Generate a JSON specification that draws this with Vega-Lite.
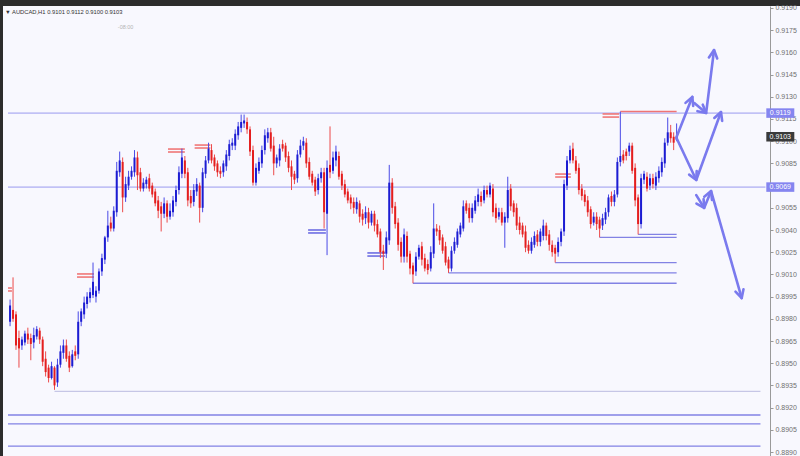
{
  "$schema": "https://vega.github.io/schema/vega-lite/v6.json",
  "width": 797,
  "height": 450,
  "autosize": "none",
  "padding": {"left": 3, "top": 6, "right": 0, "bottom": 0},
  "background": "#2c2c2c",
  "config": {
    "view": {"fill": "#f8f8fe", "stroke": null},
    "font": "Liberation Sans"
  },
  "title": {
    "text": "▼ AUDCAD,H1 0.9101 0.9112 0.9100 0.9103",
    "anchor": "start",
    "frame": "group",
    "orient": "top",
    "offset": -11,
    "dx": 2,
    "fontSize": 5.8,
    "fontWeight": "normal",
    "font": "Liberation Sans",
    "color": "#333333"
  },
  "resolve": {"axis": {"y": "independent"}},
  "datasets": {
    "candles": [
      {"i":0,"o":0.8978,"h":0.8993,"l":0.8975,"c":0.8989},
      {"i":1,"o":0.8986,"h":0.9008,"l":0.8978,"c":0.8980},
      {"i":2,"o":0.8983,"h":0.8985,"l":0.8959,"c":0.8962},
      {"i":3,"o":0.8967,"h":0.8972,"l":0.8947,"c":0.8960},
      {"i":4,"o":0.8962,"h":0.8968,"l":0.8959,"c":0.8966},
      {"i":5,"o":0.8964,"h":0.8972,"l":0.8962,"c":0.8970},
      {"i":6,"o":0.8970,"h":0.8974,"l":0.8963,"c":0.8966},
      {"i":7,"o":0.8967,"h":0.8970,"l":0.8952,"c":0.8963},
      {"i":8,"o":0.8964,"h":0.8974,"l":0.8960,"c":0.8969},
      {"i":9,"o":0.8968,"h":0.8975,"l":0.8966,"c":0.8973},
      {"i":10,"o":0.8972,"h":0.8974,"l":0.8963,"c":0.8966},
      {"i":11,"o":0.8966,"h":0.8968,"l":0.8948,"c":0.8951},
      {"i":12,"o":0.8953,"h":0.8958,"l":0.8941,"c":0.8944},
      {"i":13,"o":0.8947,"h":0.8949,"l":0.8937,"c":0.8940},
      {"i":14,"o":0.8940,"h":0.8951,"l":0.8939,"c":0.8948},
      {"i":15,"o":0.8947,"h":0.8948,"l":0.8932,"c":0.8935},
      {"i":16,"o":0.8937,"h":0.8953,"l":0.8934,"c":0.8949},
      {"i":17,"o":0.8949,"h":0.8962,"l":0.8947,"c":0.8958},
      {"i":18,"o":0.8957,"h":0.8966,"l":0.8953,"c":0.8962},
      {"i":19,"o":0.8962,"h":0.8966,"l":0.8951,"c":0.8953},
      {"i":20,"o":0.8955,"h":0.8958,"l":0.8944,"c":0.8947},
      {"i":21,"o":0.8948,"h":0.8959,"l":0.8947,"c":0.8956},
      {"i":22,"o":0.8958,"h":0.8962,"l":0.8952,"c":0.8955},
      {"i":23,"o":0.8956,"h":0.8985,"l":0.8953,"c":0.8978},
      {"i":24,"o":0.8978,"h":0.8987,"l":0.8975,"c":0.8985},
      {"i":25,"o":0.8983,"h":0.8995,"l":0.8980,"c":0.8991},
      {"i":26,"o":0.8990,"h":0.8998,"l":0.8987,"c":0.8995},
      {"i":27,"o":0.8994,"h":0.9001,"l":0.8991,"c":0.8998},
      {"i":28,"o":0.8996,"h":0.9018,"l":0.8994,"c":0.9005},
      {"i":29,"o":0.8995,"h":0.9002,"l":0.8991,"c":0.8999},
      {"i":30,"o":0.8999,"h":0.9014,"l":0.8997,"c":0.9012},
      {"i":31,"o":0.9012,"h":0.9024,"l":0.9009,"c":0.9021},
      {"i":32,"o":0.9020,"h":0.9036,"l":0.9017,"c":0.9035},
      {"i":33,"o":0.9035,"h":0.9053,"l":0.9032,"c":0.9043},
      {"i":34,"o":0.9045,"h":0.9049,"l":0.9039,"c":0.9041},
      {"i":35,"o":0.9041,"h":0.9056,"l":0.9039,"c":0.9053},
      {"i":36,"o":0.9052,"h":0.9086,"l":0.9049,"c":0.9080},
      {"i":37,"o":0.9079,"h":0.9093,"l":0.9076,"c":0.9087},
      {"i":38,"o":0.9086,"h":0.9089,"l":0.9052,"c":0.9062},
      {"i":39,"o":0.9062,"h":0.9076,"l":0.9059,"c":0.9071},
      {"i":40,"o":0.9070,"h":0.9080,"l":0.9067,"c":0.9076},
      {"i":41,"o":0.9076,"h":0.9083,"l":0.9074,"c":0.9080},
      {"i":42,"o":0.9079,"h":0.9094,"l":0.9076,"c":0.9089},
      {"i":43,"o":0.9089,"h":0.9093,"l":0.9067,"c":0.9077},
      {"i":44,"o":0.9079,"h":0.9082,"l":0.9066,"c":0.9068},
      {"i":45,"o":0.9068,"h":0.9075,"l":0.9066,"c":0.9072},
      {"i":46,"o":0.9071,"h":0.9076,"l":0.9068,"c":0.9074},
      {"i":47,"o":0.9075,"h":0.9078,"l":0.9066,"c":0.9068},
      {"i":48,"o":0.9070,"h":0.9072,"l":0.9062,"c":0.9064},
      {"i":49,"o":0.9066,"h":0.9068,"l":0.9056,"c":0.9058},
      {"i":50,"o":0.9060,"h":0.9063,"l":0.9048,"c":0.9053},
      {"i":51,"o":0.9056,"h":0.9059,"l":0.9039,"c":0.9051},
      {"i":52,"o":0.9051,"h":0.9062,"l":0.9048,"c":0.9058},
      {"i":53,"o":0.9058,"h":0.9060,"l":0.9045,"c":0.9049},
      {"i":54,"o":0.9049,"h":0.9058,"l":0.9047,"c":0.9053},
      {"i":55,"o":0.9052,"h":0.9063,"l":0.9049,"c":0.9060},
      {"i":56,"o":0.9059,"h":0.9070,"l":0.9056,"c":0.9067},
      {"i":57,"o":0.9067,"h":0.9083,"l":0.9064,"c":0.9079},
      {"i":58,"o":0.9078,"h":0.9095,"l":0.9075,"c":0.9089},
      {"i":59,"o":0.9087,"h":0.9090,"l":0.9075,"c":0.9078},
      {"i":60,"o":0.9079,"h":0.9082,"l":0.9056,"c":0.9060},
      {"i":61,"o":0.9063,"h":0.9067,"l":0.9055,"c":0.9058},
      {"i":62,"o":0.9059,"h":0.9071,"l":0.9056,"c":0.9067},
      {"i":63,"o":0.9066,"h":0.9075,"l":0.9063,"c":0.9071},
      {"i":64,"o":0.9070,"h":0.9072,"l":0.9045,"c":0.9055},
      {"i":65,"o":0.9055,"h":0.9082,"l":0.9052,"c":0.9079},
      {"i":66,"o":0.9078,"h":0.9090,"l":0.9075,"c":0.9087},
      {"i":67,"o":0.9087,"h":0.9099,"l":0.9085,"c":0.9095},
      {"i":68,"o":0.9094,"h":0.9098,"l":0.9085,"c":0.9087},
      {"i":69,"o":0.9089,"h":0.9091,"l":0.9080,"c":0.9083},
      {"i":70,"o":0.9085,"h":0.9087,"l":0.9076,"c":0.9079},
      {"i":71,"o":0.9080,"h":0.9083,"l":0.9075,"c":0.9078},
      {"i":72,"o":0.9079,"h":0.9087,"l":0.9076,"c":0.9085},
      {"i":73,"o":0.9083,"h":0.9094,"l":0.9080,"c":0.9091},
      {"i":74,"o":0.9090,"h":0.9101,"l":0.9087,"c":0.9098},
      {"i":75,"o":0.9097,"h":0.9102,"l":0.9094,"c":0.9099},
      {"i":76,"o":0.9097,"h":0.9108,"l":0.9094,"c":0.9105},
      {"i":77,"o":0.9104,"h":0.9113,"l":0.9101,"c":0.9110},
      {"i":78,"o":0.9109,"h":0.9118,"l":0.9106,"c":0.9113},
      {"i":79,"o":0.9112,"h":0.9118,"l":0.9109,"c":0.9114},
      {"i":80,"o":0.9113,"h":0.9116,"l":0.9105,"c":0.9108},
      {"i":81,"o":0.9108,"h":0.9110,"l":0.9090,"c":0.9093},
      {"i":82,"o":0.9094,"h":0.9097,"l":0.9070,"c":0.9072},
      {"i":83,"o":0.9072,"h":0.9085,"l":0.9070,"c":0.9082},
      {"i":84,"o":0.9080,"h":0.9089,"l":0.9078,"c":0.9086},
      {"i":85,"o":0.9085,"h":0.9097,"l":0.9082,"c":0.9094},
      {"i":86,"o":0.9094,"h":0.9108,"l":0.9091,"c":0.9104},
      {"i":87,"o":0.9102,"h":0.9109,"l":0.9099,"c":0.9106},
      {"i":88,"o":0.9106,"h":0.9109,"l":0.9093,"c":0.9095},
      {"i":89,"o":0.9097,"h":0.9103,"l":0.9077,"c":0.9085},
      {"i":90,"o":0.9085,"h":0.9091,"l":0.9082,"c":0.9089},
      {"i":91,"o":0.9087,"h":0.9098,"l":0.9083,"c":0.9095},
      {"i":92,"o":0.9098,"h":0.9101,"l":0.9093,"c":0.9095},
      {"i":93,"o":0.9097,"h":0.9099,"l":0.9086,"c":0.9089},
      {"i":94,"o":0.9090,"h":0.9093,"l":0.9079,"c":0.9082},
      {"i":95,"o":0.9083,"h":0.9087,"l":0.9067,"c":0.9076},
      {"i":96,"o":0.9078,"h":0.9080,"l":0.9071,"c":0.9074},
      {"i":97,"o":0.9075,"h":0.9094,"l":0.9072,"c":0.9091},
      {"i":98,"o":0.9091,"h":0.9101,"l":0.9089,"c":0.9097},
      {"i":99,"o":0.9097,"h":0.9103,"l":0.9094,"c":0.9100},
      {"i":100,"o":0.9099,"h":0.9102,"l":0.9082,"c":0.9085},
      {"i":101,"o":0.9086,"h":0.9089,"l":0.9074,"c":0.9076},
      {"i":102,"o":0.9078,"h":0.9080,"l":0.9070,"c":0.9072},
      {"i":103,"o":0.9074,"h":0.9076,"l":0.9063,"c":0.9066},
      {"i":104,"o":0.9067,"h":0.9078,"l":0.9064,"c":0.9075},
      {"i":105,"o":0.9075,"h":0.9082,"l":0.9072,"c":0.9079},
      {"i":106,"o":0.9079,"h":0.9082,"l":0.9041,"c":0.9052},
      {"i":107,"o":0.9051,"h":0.9087,"l":0.9023,"c":0.9082},
      {"i":108,"o":0.9084,"h":0.9110,"l":0.9075,"c":0.9079},
      {"i":109,"o":0.9080,"h":0.9093,"l":0.9078,"c":0.9089},
      {"i":110,"o":0.9087,"h":0.9097,"l":0.9083,"c":0.9093},
      {"i":111,"o":0.9090,"h":0.9093,"l":0.9074,"c":0.9076},
      {"i":112,"o":0.9078,"h":0.9080,"l":0.9067,"c":0.9070},
      {"i":113,"o":0.9071,"h":0.9074,"l":0.9062,"c":0.9064},
      {"i":114,"o":0.9066,"h":0.9068,"l":0.9058,"c":0.9060},
      {"i":115,"o":0.9062,"h":0.9064,"l":0.9054,"c":0.9058},
      {"i":116,"o":0.9059,"h":0.9062,"l":0.9051,"c":0.9055},
      {"i":117,"o":0.9054,"h":0.9062,"l":0.9051,"c":0.9059},
      {"i":118,"o":0.9058,"h":0.9060,"l":0.9045,"c":0.9049},
      {"i":119,"o":0.9051,"h":0.9054,"l":0.9043,"c":0.9047},
      {"i":120,"o":0.9048,"h":0.9056,"l":0.9044,"c":0.9052},
      {"i":121,"o":0.9052,"h":0.9055,"l":0.9041,"c":0.9045},
      {"i":122,"o":0.9045,"h":0.9053,"l":0.9043,"c":0.9051},
      {"i":123,"o":0.9051,"h":0.9053,"l":0.9039,"c":0.9043},
      {"i":124,"o":0.9044,"h":0.9047,"l":0.9035,"c":0.9037},
      {"i":125,"o":0.9039,"h":0.9041,"l":0.9021,"c":0.9025},
      {"i":126,"o":0.9026,"h":0.9030,"l":0.9013,"c":0.9024},
      {"i":127,"o":0.9024,"h":0.9039,"l":0.9021,"c":0.9035},
      {"i":128,"o":0.9033,"h":0.9084,"l":0.9030,"c":0.9072},
      {"i":129,"o":0.9072,"h":0.9075,"l":0.9051,"c":0.9055},
      {"i":130,"o":0.9056,"h":0.9059,"l":0.9041,"c":0.9044},
      {"i":131,"o":0.9045,"h":0.9048,"l":0.9026,"c":0.9030},
      {"i":132,"o":0.9032,"h":0.9035,"l":0.9018,"c":0.9022},
      {"i":133,"o":0.9022,"h":0.9041,"l":0.9018,"c":0.9037},
      {"i":134,"o":0.9036,"h":0.9039,"l":0.9018,"c":0.9022},
      {"i":135,"o":0.9024,"h":0.9026,"l":0.9010,"c":0.9014},
      {"i":136,"o":0.9016,"h":0.9018,"l":0.9004,"c":0.9010},
      {"i":137,"o":0.9012,"h":0.9025,"l":0.9009,"c":0.9022},
      {"i":138,"o":0.9022,"h":0.9030,"l":0.9020,"c":0.9028},
      {"i":139,"o":0.9029,"h":0.9032,"l":0.9016,"c":0.9020},
      {"i":140,"o":0.9021,"h":0.9024,"l":0.9012,"c":0.9014},
      {"i":141,"o":0.9017,"h":0.9020,"l":0.9010,"c":0.9013},
      {"i":142,"o":0.9014,"h":0.9029,"l":0.9012,"c":0.9025},
      {"i":143,"o":0.9024,"h":0.9058,"l":0.9021,"c":0.9041},
      {"i":144,"o":0.9041,"h":0.9044,"l":0.9036,"c":0.9039},
      {"i":145,"o":0.9040,"h":0.9043,"l":0.9030,"c":0.9033},
      {"i":146,"o":0.9035,"h":0.9037,"l":0.9024,"c":0.9026},
      {"i":147,"o":0.9029,"h":0.9032,"l":0.9016,"c":0.9018},
      {"i":148,"o":0.9020,"h":0.9022,"l":0.9011,"c":0.9014},
      {"i":149,"o":0.9014,"h":0.9029,"l":0.9012,"c":0.9026},
      {"i":150,"o":0.9026,"h":0.9035,"l":0.9024,"c":0.9032},
      {"i":151,"o":0.9030,"h":0.9041,"l":0.9028,"c":0.9039},
      {"i":152,"o":0.9037,"h":0.9045,"l":0.9035,"c":0.9043},
      {"i":153,"o":0.9041,"h":0.9060,"l":0.9039,"c":0.9056},
      {"i":154,"o":0.9058,"h":0.9060,"l":0.9051,"c":0.9053},
      {"i":155,"o":0.9055,"h":0.9058,"l":0.9045,"c":0.9048},
      {"i":156,"o":0.9048,"h":0.9058,"l":0.9045,"c":0.9055},
      {"i":157,"o":0.9053,"h":0.9063,"l":0.9051,"c":0.9060},
      {"i":158,"o":0.9059,"h":0.9068,"l":0.9056,"c":0.9064},
      {"i":159,"o":0.9063,"h":0.9066,"l":0.9056,"c":0.9059},
      {"i":160,"o":0.9060,"h":0.9070,"l":0.9058,"c":0.9067},
      {"i":161,"o":0.9067,"h":0.9070,"l":0.9062,"c":0.9064},
      {"i":162,"o":0.9064,"h":0.9072,"l":0.9062,"c":0.9070},
      {"i":163,"o":0.9068,"h":0.9071,"l":0.9049,"c":0.9052},
      {"i":164,"o":0.9055,"h":0.9058,"l":0.9045,"c":0.9048},
      {"i":165,"o":0.9049,"h":0.9055,"l":0.9047,"c":0.9052},
      {"i":166,"o":0.9052,"h":0.9055,"l":0.9043,"c":0.9045},
      {"i":167,"o":0.9045,"h":0.9052,"l":0.9028,"c":0.9049},
      {"i":168,"o":0.9048,"h":0.9076,"l":0.9045,"c":0.9067},
      {"i":169,"o":0.9068,"h":0.9071,"l":0.9053,"c":0.9056},
      {"i":170,"o":0.9058,"h":0.9060,"l":0.9049,"c":0.9052},
      {"i":171,"o":0.9055,"h":0.9058,"l":0.9040,"c":0.9043},
      {"i":172,"o":0.9045,"h":0.9049,"l":0.9037,"c":0.9040},
      {"i":173,"o":0.9043,"h":0.9045,"l":0.9035,"c":0.9037},
      {"i":174,"o":0.9039,"h":0.9043,"l":0.9025,"c":0.9028},
      {"i":175,"o":0.9030,"h":0.9033,"l":0.9024,"c":0.9026},
      {"i":176,"o":0.9026,"h":0.9035,"l":0.9024,"c":0.9032},
      {"i":177,"o":0.9030,"h":0.9039,"l":0.9028,"c":0.9036},
      {"i":178,"o":0.9037,"h":0.9040,"l":0.9029,"c":0.9032},
      {"i":179,"o":0.9032,"h":0.9041,"l":0.9029,"c":0.9039},
      {"i":180,"o":0.9036,"h":0.9047,"l":0.9033,"c":0.9043},
      {"i":181,"o":0.9043,"h":0.9045,"l":0.9033,"c":0.9036},
      {"i":182,"o":0.9037,"h":0.9040,"l":0.9026,"c":0.9030},
      {"i":183,"o":0.9030,"h":0.9033,"l":0.9022,"c":0.9025},
      {"i":184,"o":0.9028,"h":0.9030,"l":0.9018,"c":0.9024},
      {"i":185,"o":0.9025,"h":0.9035,"l":0.9022,"c":0.9032},
      {"i":186,"o":0.9032,"h":0.9041,"l":0.9029,"c":0.9039},
      {"i":187,"o":0.9039,"h":0.9074,"l":0.9036,"c":0.9071},
      {"i":188,"o":0.9070,"h":0.9090,"l":0.9067,"c":0.9087},
      {"i":189,"o":0.9087,"h":0.9097,"l":0.9085,"c":0.9094},
      {"i":190,"o":0.9095,"h":0.9099,"l":0.9085,"c":0.9087},
      {"i":191,"o":0.9087,"h":0.9090,"l":0.9078,"c":0.9080},
      {"i":192,"o":0.9082,"h":0.9085,"l":0.9064,"c":0.9067},
      {"i":193,"o":0.9068,"h":0.9071,"l":0.9060,"c":0.9063},
      {"i":194,"o":0.9064,"h":0.9067,"l":0.9056,"c":0.9059},
      {"i":195,"o":0.9060,"h":0.9063,"l":0.9049,"c":0.9052},
      {"i":196,"o":0.9054,"h":0.9056,"l":0.9041,"c":0.9044},
      {"i":197,"o":0.9045,"h":0.9052,"l":0.9043,"c":0.9049},
      {"i":198,"o":0.9049,"h":0.9052,"l":0.9040,"c":0.9044},
      {"i":199,"o":0.9047,"h":0.9049,"l":0.9035,"c":0.9041},
      {"i":200,"o":0.9043,"h":0.9051,"l":0.9040,"c":0.9048},
      {"i":201,"o":0.9047,"h":0.9055,"l":0.9044,"c":0.9052},
      {"i":202,"o":0.9052,"h":0.9064,"l":0.9049,"c":0.9062},
      {"i":203,"o":0.9063,"h":0.9066,"l":0.9056,"c":0.9059},
      {"i":204,"o":0.9059,"h":0.9067,"l":0.9056,"c":0.9064},
      {"i":205,"o":0.9064,"h":0.9089,"l":0.9062,"c":0.9086},
      {"i":206,"o":0.9086,"h":0.9120,"l":0.9083,"c":0.9090},
      {"i":207,"o":0.9091,"h":0.9094,"l":0.9085,"c":0.9087},
      {"i":208,"o":0.9093,"h":0.9095,"l":0.9087,"c":0.9090},
      {"i":209,"o":0.9093,"h":0.9099,"l":0.9090,"c":0.9097},
      {"i":210,"o":0.9097,"h":0.9099,"l":0.9078,"c":0.9080},
      {"i":211,"o":0.9082,"h":0.9085,"l":0.9056,"c":0.9060},
      {"i":212,"o":0.9062,"h":0.9064,"l":0.9037,"c":0.9044},
      {"i":213,"o":0.9044,"h":0.9078,"l":0.9041,"c":0.9075},
      {"i":214,"o":0.9074,"h":0.9080,"l":0.9071,"c":0.9078},
      {"i":215,"o":0.9076,"h":0.9079,"l":0.9066,"c":0.9068},
      {"i":216,"o":0.9070,"h":0.9078,"l":0.9067,"c":0.9075},
      {"i":217,"o":0.9075,"h":0.9078,"l":0.9068,"c":0.9071},
      {"i":218,"o":0.9070,"h":0.9079,"l":0.9067,"c":0.9076},
      {"i":219,"o":0.9075,"h":0.9083,"l":0.9072,"c":0.9080},
      {"i":220,"o":0.9079,"h":0.9089,"l":0.9076,"c":0.9086},
      {"i":221,"o":0.9085,"h":0.9102,"l":0.9082,"c":0.9099},
      {"i":222,"o":0.9099,"h":0.9116,"l":0.9097,"c":0.9106},
      {"i":223,"o":0.9106,"h":0.9111,"l":0.9099,"c":0.9102},
      {"i":224,"o":0.9103,"h":0.9106,"l":0.9094,"c":0.9099},
      {"i":225,"o":0.9101,"h":0.9112,"l":0.9100,"c":0.9103}
    ],
    "levels": [
      {"kind":"level","p":0.9119,"x0":-0.7,"x1":255},
      {"kind":"level","p":0.9069,"x0":-0.7,"x1":255},
      {"kind":"faint","p":0.8931,"x0":15,"x1":253.3},
      {"kind":"support","p":0.8915,"x0":-0.7,"x1":253.3},
      {"kind":"support","p":0.8909,"x0":-0.7,"x1":253.3},
      {"kind":"support","p":0.8894,"x0":-0.7,"x1":253.3},
      {"kind":"support","p":0.9004,"x0":136,"x1":225},
      {"kind":"support","p":0.9011,"x0":148,"x1":225},
      {"kind":"support","p":0.9018,"x0":184,"x1":225},
      {"kind":"support","p":0.9035,"x0":199,"x1":225},
      {"kind":"support","p":0.9037,"x0":212,"x1":225},
      {"kind":"resist","p":0.9120,"x0":206,"x1":225},
      {"kind":"mred","p":0.90008,"x0":-0.7,"x1":0.63},
      {"kind":"mred","p":0.89988,"x0":-0.7,"x1":0.63},
      {"kind":"mred","p":0.90103,"x0":22.6,"x1":28.3},
      {"kind":"mred","p":0.90082,"x0":22.6,"x1":28.3},
      {"kind":"mred","p":0.90947,"x0":53.3,"x1":59.0},
      {"kind":"mred","p":0.90927,"x0":53.3,"x1":59.0},
      {"kind":"mred","p":0.90974,"x0":62.3,"x1":67.6},
      {"kind":"mred","p":0.90954,"x0":62.3,"x1":67.6},
      {"kind":"mred","p":0.90778,"x0":184.0,"x1":189.3},
      {"kind":"mred","p":0.90758,"x0":184.0,"x1":189.3},
      {"kind":"mred","p":0.91184,"x0":200.0,"x1":205.6},
      {"kind":"mred","p":0.91163,"x0":200.0,"x1":205.6},
      {"kind":"mblue","p":0.90400,"x0":100.6,"x1":106.6},
      {"kind":"mblue","p":0.90380,"x0":100.6,"x1":106.6},
      {"kind":"mblue","p":0.90245,"x0":120.6,"x1":126.6},
      {"kind":"mblue","p":0.90224,"x0":120.6,"x1":126.6}
    ],
    "arrows": [
      {"g":"a1","k":0,"i":224.97,"p":0.91028},{"g":"a1","k":1,"i":230.3,"p":0.91299},
      {"g":"h1","k":0,"i":228.0,"p":0.91259},{"g":"h1","k":1,"i":230.3,"p":0.91299},{"g":"h1","k":2,"i":230.6,"p":0.91238},
      {"g":"a2","k":0,"i":230.97,"p":0.91258},{"g":"a2","k":1,"i":234.97,"p":0.91191},{"g":"a2","k":2,"i":237.63,"p":0.91616},
      {"g":"h2a","k":0,"i":233.83,"p":0.91247},{"g":"h2a","k":1,"i":234.97,"p":0.91191},{"g":"h2a","k":2,"i":232.03,"p":0.91203},
      {"g":"h2b","k":0,"i":235.9,"p":0.91566},{"g":"h2b","k":1,"i":237.63,"p":0.91616},{"g":"h2b","k":2,"i":238.7,"p":0.91559},
      {"g":"a3","k":0,"i":224.97,"p":0.91022},{"g":"a3","k":1,"i":231.63,"p":0.90738},{"g":"a3","k":2,"i":239.97,"p":0.91197},
      {"g":"h3a","k":0,"i":231.77,"p":0.90799},{"g":"h3a","k":1,"i":231.63,"p":0.90738},{"g":"h3a","k":2,"i":229.23,"p":0.90774},
      {"g":"h3b","k":0,"i":237.73,"p":0.91157},{"g":"h3b","k":1,"i":239.97,"p":0.91197},{"g":"h3b","k":2,"i":240.37,"p":0.91137},
      {"g":"a4","k":0,"i":231.63,"p":0.90636},{"g":"a4","k":1,"i":234.3,"p":0.90549},{"g":"a4","k":2,"i":236.63,"p":0.90663},{"g":"a4","k":3,"i":246.97,"p":0.89940},
      {"g":"h4a","k":0,"i":234.1,"p":0.90609},{"g":"h4a","k":1,"i":234.3,"p":0.90549},{"g":"h4a","k":2,"i":231.7,"p":0.90579},
      {"g":"h4b","k":0,"i":234.33,"p":0.90625},{"g":"h4b","k":1,"i":236.63,"p":0.90663},{"g":"h4b","k":2,"i":236.93,"p":0.90603},
      {"g":"h4c","k":0,"i":247.57,"p":0.90000},{"g":"h4c","k":1,"i":246.97,"p":0.89940},{"g":"h4c","k":2,"i":244.87,"p":0.89984}
    ],
    "tags": [
      {"k":"level","p":0.9119,"t":"0.9119"},
      {"k":"bid","p":0.9103,"t":"0.9103"},
      {"k":"level","p":0.9069,"t":"0.9069"}
    ],
    "notes": [
      {"t":"-08:00"}
    ]
  },
  "layer": [
    {
      "data": {"name": "levels"},
      "mark": {"type": "rule"},
      "encoding": {
        "x": {"field": "x0", "type": "quantitative", "axis": null, "scale": {"domain": [-0.7, 264.96], "nice": false, "zero": false}},
        "x2": {"field": "x1"},
        "y": {
          "field": "p", "type": "quantitative", "title": null,
          "scale": {"domain": [0.88873, 0.919135], "nice": false, "zero": false},
          "axis": {
            "orient": "right", "offset": -30, "grid": false, "title": null,
            "values": [0.8890, 0.8905, 0.8920, 0.8935, 0.8950, 0.8965, 0.8980, 0.8995, 0.9010, 0.9025, 0.9040, 0.9055, 0.9085, 0.9100, 0.9115, 0.9130, 0.9145, 0.9160, 0.9175, 0.9190],
            "format": ".4f", "labelFont": "Liberation Sans", "labelFontSize": 7, "labelColor": "#707070",
            "tickSize": 3, "tickColor": "#9a9a9a", "domainColor": "#9a9a9a", "labelPadding": 2,
            "labelOverlap": false, "labelBound": false, "labelFlush": false
          }
        },
        "color": {"field": "kind", "type": "nominal", "legend": null,
          "scale": {"domain": ["level", "faint", "support", "resist", "mred", "mblue"],
                    "range": ["#9a9aef", "#c6c6e6", "#8282e4", "#f07474", "#f07a7a", "#7c7ce6"]}},
        "strokeWidth": {"field": "kind", "type": "ordinal", "legend": null,
          "scale": {"domain": ["level", "faint", "support", "resist", "mred", "mblue"],
                    "range": [1, 1.8, 1.3, 1.3, 1, 1]}}
      }
    },
    {
      "data": {"name": "candles"},
      "mark": {"type": "rule", "strokeWidth": 1},
      "encoding": {
        "x": {"field": "i", "type": "quantitative", "axis": null, "scale": {"domain": [-0.7, 264.96], "nice": false, "zero": false}},
        "y": {"field": "l", "type": "quantitative", "title": null, "axis": null, "scale": {"domain": [0.88873, 0.919135], "nice": false, "zero": false}},
        "y2": {"field": "h"},
        "color": {"condition": {"test": "datum.c >= datum.o", "value": "#4a4ae6"}, "value": "#ec4a4a"}
      }
    },
    {
      "data": {"name": "candles"},
      "mark": {"type": "bar", "width": 2},
      "encoding": {
        "x": {"field": "i", "type": "quantitative", "axis": null, "scale": {"domain": [-0.7, 264.96], "nice": false, "zero": false}},
        "y": {"field": "o", "type": "quantitative", "title": null, "axis": null, "scale": {"domain": [0.88873, 0.919135], "nice": false, "zero": false}},
        "y2": {"field": "c"},
        "color": {"condition": {"test": "datum.c >= datum.o", "value": "#1c1cd2"}, "value": "#e41e1e"}
      }
    },
    {
      "data": {"name": "arrows"},
      "mark": {"type": "line", "color": "#7a7aee", "strokeWidth": 2.6, "strokeCap": "round", "strokeJoin": "round"},
      "encoding": {
        "x": {"field": "i", "type": "quantitative", "axis": null, "scale": {"domain": [-0.7, 264.96], "nice": false, "zero": false}},
        "y": {"field": "p", "type": "quantitative", "title": null, "axis": null, "scale": {"domain": [0.88873, 0.919135], "nice": false, "zero": false}},
        "detail": {"field": "g", "type": "nominal"},
        "order": {"field": "k", "type": "quantitative"}
      }
    },
    {
      "data": {"name": "tags"},
      "mark": {"type": "point", "shape": "M-1,-0.34L1,-0.34L1,0.34L-1,0.34Z", "size": 784, "filled": true, "opacity": 1, "strokeWidth": 0},
      "encoding": {
        "x": {"datum": 260, "type": "quantitative", "axis": null, "scale": {"domain": [-0.7, 264.96], "nice": false, "zero": false}},
        "y": {"field": "p", "type": "quantitative", "title": null, "axis": null, "scale": {"domain": [0.88873, 0.919135], "nice": false, "zero": false}},
        "color": {"condition": {"test": "datum.k === 'bid'", "value": "#3a3a3a"}, "value": "#8585f0"}
      }
    },
    {
      "data": {"name": "tags"},
      "mark": {"type": "text", "font": "Liberation Sans", "fontSize": 7, "color": "#ffffff", "align": "center", "baseline": "middle"},
      "encoding": {
        "x": {"datum": 260, "type": "quantitative", "axis": null, "scale": {"domain": [-0.7, 264.96], "nice": false, "zero": false}},
        "y": {"field": "p", "type": "quantitative", "title": null, "axis": null, "scale": {"domain": [0.88873, 0.919135], "nice": false, "zero": false}},
        "text": {"field": "t"}
      }
    },
    {
      "data": {"name": "notes"},
      "mark": {"type": "text", "font": "Liberation Sans", "fontSize": 5.5, "color": "#b4b4b4", "align": "center", "baseline": "middle"},
      "encoding": {
        "x": {"datum": 39, "type": "quantitative", "axis": null, "scale": {"domain": [-0.7, 264.96], "nice": false, "zero": false}},
        "y": {"datum": 0.91772, "type": "quantitative", "title": null, "axis": null, "scale": {"domain": [0.88873, 0.919135], "nice": false, "zero": false}},
        "text": {"field": "t"}
      }
    }
  ]
}
